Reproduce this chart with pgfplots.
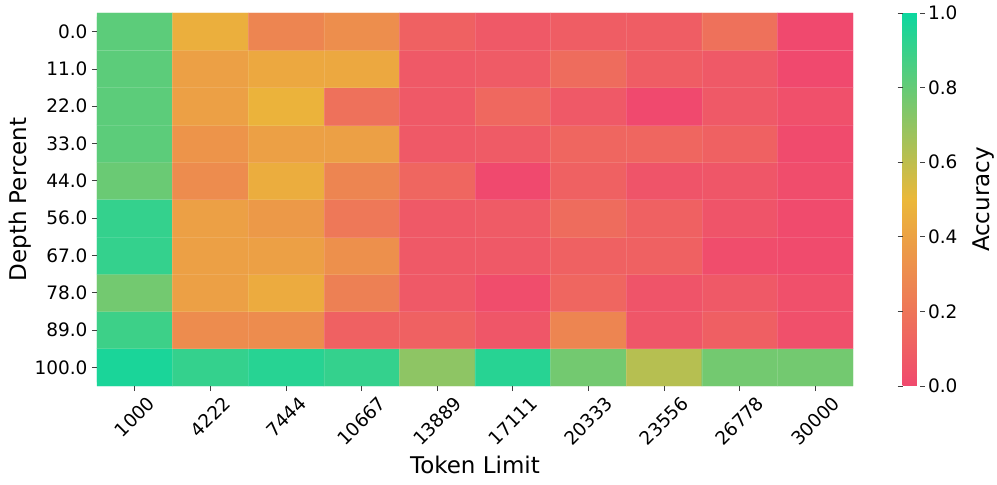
\documentclass[border=0pt]{standalone}
\usepackage{pgfplots}
\pgfplotsset{compat=1.18}
\usepackage{fontspec}
\setmainfont{DejaVu Sans}
\usepackage{graphicx}

\newcommand{\rl}[1]{\rotatebox{45}{#1}}

\begin{document}
\begin{tikzpicture}
\path[use as bounding box] (0,0) rectangle (997pt,485pt);
\begin{axis}[
    at={(97pt,99pt)}, anchor=south west,
    scale only axis, width=756pt, height=373pt,
    xmin=-0.5, xmax=9.5, ymin=-0.5, ymax=9.5,
    axis on top,
    axis line style={draw=none},
    colormap={nih}{rgb255=(240,73,110) rgb255=(235,184,57) rgb255=(12,215,159)},
    point meta min=0, point meta max=1,
    xtick={0,...,9}, ytick={0,...,9},
    xticklabels={\rl{1000},\rl{4222},\rl{7444},\rl{10667},\rl{13889},\rl{17111},\rl{20333},\rl{23556},\rl{26778},\rl{30000}},
    yticklabels={100.0,89.0,78.0,67.0,56.0,44.0,33.0,22.0,11.0,0.0},
    minor xtick={0.5,1.5,...,8.5}, minor ytick={0.5,1.5,...,8.5},
    xminorgrids, yminorgrids,
    minor grid style={white, opacity=0.12, line width=0.5pt},
    minor tick length=0pt,
    tick align=outside, major tick length=5pt,
    xtick pos=left, ytick pos=left,
    major tick style={black!75, line width=0.8pt},
    tick label style={font=\fontsize{18.5}{22}\selectfont},
    xticklabel style={anchor=north, inner sep=1pt, yshift=-3pt},
    yticklabel style={anchor=east, xshift=-1pt},
    xlabel={Token Limit}, ylabel={Depth Percent},
    label style={font=\fontsize{23}{27}\selectfont},
    xlabel style={yshift=-5pt},
    ylabel style={yshift=-4pt},
    colorbar,
    colorbar style={
        at={(parent axis.north east)}, anchor=north west, xshift=41pt,
        width=17pt,
        axis line style={draw=none},
        ytick={0,0.2,0.4,0.6,0.8,1.0},
        yticklabel style={/pgf/number format/fixed, /pgf/number format/precision=1,
            /pgf/number format/fixed zerofill, /pgf/number format/assume math mode=true,
            font=\fontsize{18.5}{22}\selectfont, xshift=0pt},
        major tick length=5pt, tick align=outside,
        major tick style={black!75, line width=0.8pt},
        ylabel={Accuracy},
        ylabel style={font=\fontsize{23}{27}\selectfont, yshift=-8pt},
    },
]
\addplot[matrix plot*, mesh/cols=10, point meta=explicit] table[meta=c] {
x y c
0 0 0.97
1 0 0.91
2 0 0.94
3 0 0.91
4 0 0.71
5 0 0.94
6 0 0.77
7 0 0.62
8 0 0.77
9 0 0.77
0 1 0.89
1 1 0.30
2 1 0.30
3 1 0.11
4 1 0.11
5 1 0.06
6 1 0.27
7 1 0.06
8 1 0.10
9 1 0.03
0 2 0.77
1 2 0.39
2 2 0.44
3 2 0.25
4 2 0.07
5 2 0.02
6 2 0.13
7 2 0.05
8 2 0.07
9 2 0.03
0 3 0.91
1 3 0.39
2 3 0.39
3 3 0.32
4 3 0.07
5 3 0.07
6 3 0.11
7 3 0.11
8 3 0.02
9 3 0.01
0 4 0.91
1 4 0.39
2 4 0.36
3 4 0.21
4 4 0.07
5 4 0.08
6 4 0.16
7 4 0.11
8 4 0.05
9 4 0.01
0 5 0.79
1 5 0.30
2 5 0.45
3 5 0.27
4 5 0.13
5 5 0.00
6 5 0.11
7 5 0.05
8 5 0.06
9 5 0.02
0 6 0.82
1 6 0.34
2 6 0.39
3 6 0.39
4 6 0.07
5 6 0.08
6 6 0.13
7 6 0.13
8 6 0.11
9 6 0.01
0 7 0.82
1 7 0.39
2 7 0.48
3 7 0.18
4 7 0.07
5 7 0.14
6 7 0.07
7 7 0.00
8 7 0.07
9 7 0.03
0 8 0.82
1 8 0.39
2 8 0.43
3 8 0.43
4 8 0.07
5 8 0.08
6 8 0.16
7 8 0.09
8 8 0.07
9 8 0.00
0 9 0.82
1 9 0.46
2 9 0.27
3 9 0.31
4 9 0.11
5 9 0.07
6 9 0.09
7 9 0.09
8 9 0.18
9 9 0.00
};
\end{axis}
\end{tikzpicture}
\end{document}
